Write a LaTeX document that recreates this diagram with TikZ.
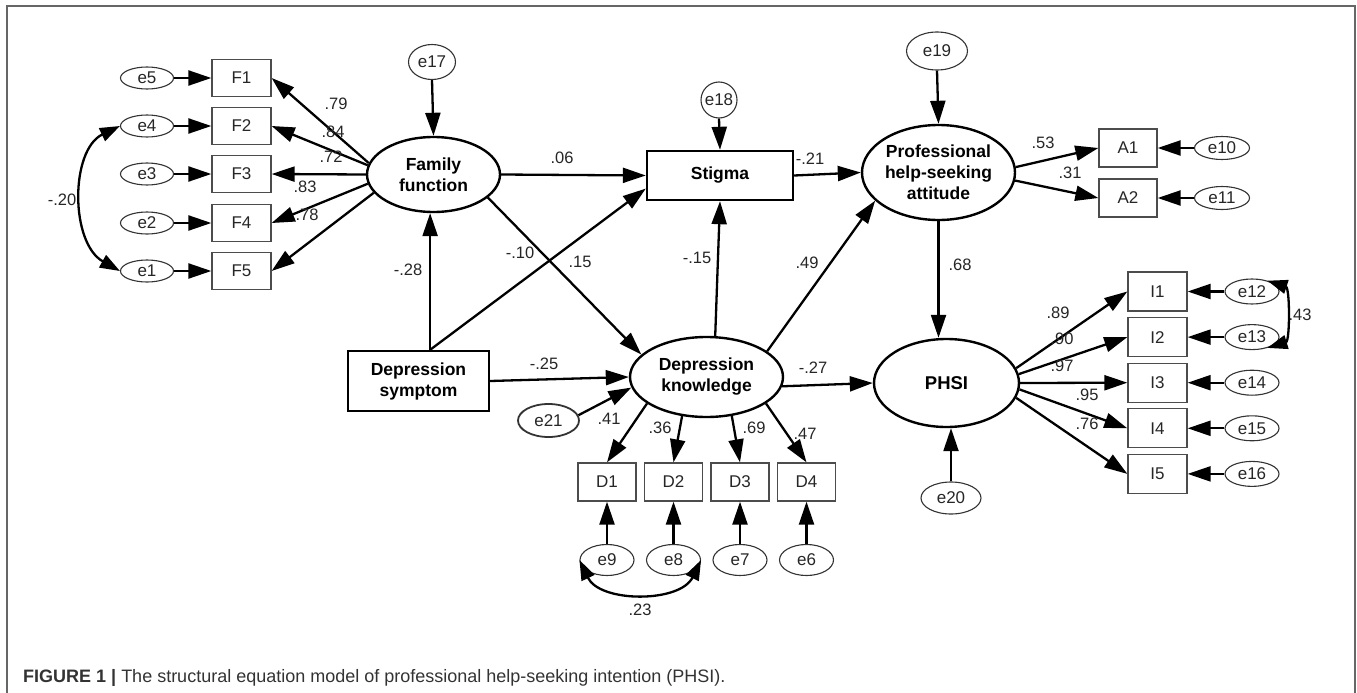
\documentclass[tikz,border=0pt]{standalone}
\usepackage{fontspec}
\setmainfont{Liberation Sans}
\usetikzlibrary{arrows.meta,shapes.geometric,calc}
\begin{document}
\begin{tikzpicture}[x=1pt,y=1pt,
 txt/.style={font=\fontsize{17}{20}\selectfont, text=black!85},
 obs/.style={draw=black!70, line width=1.3pt, rectangle, minimum width=59pt, minimum height=38pt, inner sep=0pt, txt},
 err/.style={draw=black!80, line width=1.1pt, ellipse, minimum width=54pt, minimum height=24pt, inner sep=0pt, txt},
 lat/.style={draw=black, line width=2.4pt, ellipse, inner sep=0pt, align=center, font=\fontsize{17.5}{21}\selectfont\bfseries},
 bigbox/.style={draw=black, line width=2.4pt, rectangle, inner sep=0pt, align=center, font=\fontsize{17.5}{21}\selectfont\bfseries},
 arr/.style={line width=2.3pt, -{Triangle[length=23pt,width=15pt]}},
 cov/.style={line width=2.3pt, {Triangle[length=20pt,width=14pt]}-{Triangle[length=20pt,width=14pt]}},
 lab/.style={font=\fontsize{16.5}{18}\selectfont, inner sep=0pt, text=black!85}]
\useasboundingbox (0,0) rectangle (1357,-693);
% frame
\draw[black!60, line width=1.5pt] (7,-693) -- (7,-6) -- (1355,-6) -- (1355,-693);

% ---------- Family function block ----------
\foreach \i/\y in {5/78,4/126,3/174,2/223,1/271}{
  \node[err, minimum width=53pt, minimum height=22pt] (e\i) at (147,-\y) {e\i};
}
\foreach \i/\y in {1/78,2/126,3/174,4/223,5/271}{
  \node[obs, minimum height=37pt] (F\i) at (241.5,-\y) {F\i};
}
\draw[arr] (e5.east) -- (F1.west);
\draw[arr] (e4.east) -- (F2.west);
\draw[arr] (e3.east) -- (F3.west);
\draw[arr] (e2.east) -- (F4.west);
\draw[arr] (e1.east) -- (F5.west);
\draw[cov] (e4.west) .. controls (70,-150) and (70,-243) .. (e1.west);
\node[lab] (l20) at (62,-200) {-.20};

\node[lat, minimum width=133pt, minimum height=75pt] (ff) at (433.5,-174.5) {Family\\function};
\node[err, minimum width=47pt, minimum height=35pt] (e17) at (432,-62) {e17};
\draw[arr] (e17.south) -- (ff.north);
\draw[arr] (ff.170) -- (F1.east);
\draw[arr] (ff.172) -- (F2.east);
\draw[arr] (ff.180) -- (F3.east);
\draw[arr] (ff.188) -- (F4.east);
\draw[arr] (ff.197) -- (F5.east);
\node[lab] at (336,-104) {.79};
\node[lab] at (333,-132) {.84};
\node[lab] at (331,-157) {.72};
\node[lab] at (305,-187) {.83};
\node[lab] at (307,-215) {.78};

% ---------- Stigma ----------
\node[bigbox, minimum width=146pt, minimum height=49pt] (stigma) at (720,-175.5) {Stigma};
\node[err, circle, minimum size=36pt] (e18) at (719,-100) {e18};
\draw[arr] (e18.south) -- (stigma.north);

% ---------- Professional attitude ----------
\node[lat, minimum width=153pt, minimum height=95pt] (prof) at (938.5,-172.5) {Professional\\help-seeking\\attitude};
\node[err, minimum width=61pt, minimum height=38pt] (e19) at (937,-51) {e19};
\draw[arr] (e19.south) -- (prof.north);
\node[obs, minimum width=58pt] (A1) at (1128,-148) {A1};
\node[obs, minimum width=58pt] (A2) at (1128,-198) {A2};
\node[err, minimum width=55pt, minimum height=23pt] (e10) at (1222,-148) {e10};
\node[err, minimum width=55pt, minimum height=23pt] (e11) at (1222,-198) {e11};
\draw[arr] (e10.west) -- (A1.east);
\draw[arr] (e11.west) -- (A2.east);
\draw[arr] (prof.4) -- (A1.west);
\draw[arr] (prof.-6) -- (A2.west);
\node[lab] at (1043,-143) {.53};
\node[lab] at (1070,-173) {.31};

% ---------- Depression symptom & knowledge ----------
\node[bigbox, minimum width=141pt, minimum height=60pt] (ds) at (418.5,-381) {Depression\\symptom};
\node[lat, minimum width=153pt, minimum height=80pt] (dk) at (706.5,-377) {Depression\\knowledge};
\node[err, line width=1.8pt, minimum width=61pt, minimum height=33pt] (e21) at (548.5,-420.5) {e21};
\coordinate (dsn) at (ds.north -| ff.265);
\draw[arr] (dsn) -- (ff.265);
\draw[arr] (dsn) -- (stigma.190);
\draw[arr] (ff.east) -- (stigma.west);
\draw[arr] (stigma.east) -- (prof.west);
\draw[arr] (ff.337) -- (dk.161);
\draw[arr] (ds.east) -- (dk.west);
\draw[arr] (e21.10) -- (dk.188);
\draw[arr] (dk.78) -- (stigma.south);
\draw[arr] (dk.23) -- (prof.204);
\node[lab] at (408,-270) {-.28};
\node[lab] at (562,-158) {.06};
\node[lab] at (520,-253) {-.10};
\node[lab] at (580,-262) {.15};
\node[lab] at (697,-258) {-.15};
\node[lab] at (807,-263) {.49};
\node[lab] at (810,-159) {-.21};
\node[lab] at (544,-364) {-.25};

% D indicators
\foreach \i/\x in {1/607,2/673.5,3/740,4/806.5}{
  \node[obs, minimum width=58pt] (D\i) at (\x,-482) {D\i};
}
\foreach \i/\x in {9/607,8/673.5,7/740,6/806.5}{
  \node[err, minimum width=54pt, minimum height=31pt] (e\i) at (\x,-560) {e\i};
}
\draw[arr] (e9.north) -- (D1.south);
\draw[arr] (e8.north) -- (D2.south);
\draw[arr] (e7.north) -- (D3.south);
\draw[arr] (e6.north) -- (D4.south);
\draw[arr] (dk.204.5) -- (D1.north);
\draw[arr] (dk.238.5) -- (D2.north);
\draw[arr] (dk.303.5) -- (D3.north);
\draw[arr] (dk.336) -- (D4.north);
\node[lab] at (609,-419) {.41};
\node[lab] at (660,-428) {.36};
\node[lab] at (754,-428) {.69};
\node[lab] at (805,-434) {.47};
\draw[cov] (e9.west) .. controls (600,-603) and (680,-603) .. (e8.east);
\node[lab] at (640,-610) {.23};

% ---------- PHSI ----------
\node[lat, font=\fontsize{18.5}{21}\selectfont\bfseries, minimum width=145pt, minimum height=88pt] (phsi) at (946.5,-383) {PHSI};
\node[err, minimum width=60pt, minimum height=32pt] (e20) at (951,-498) {e20};
\coordinate (pend) at (prof.south |- phsi.north);
\draw[arr] (prof.south) -- (pend);
\draw[arr] (e20.north) -- (e20.north |- phsi.south);
\draw[arr] (dk.353) -- (phsi.west);
\node[lab] at (960,-265) {.68};
\node[lab] at (813,-368) {-.27};

\foreach \i/\y in {1/291.5,2/337.1,3/382.7,4/428.3,5/473.9}{
  \node[obs, minimum height=39pt] (I\i) at (1157.5,-\y) {I\i};
}
\foreach \i/\j/\y in {12/1/291.5,13/2/337.1,14/3/382.7,15/4/428.3,16/5/473.9}{
  \node[err, minimum width=54pt, minimum height=25pt] (e\i) at (1252,-\y) {e\i};
  \draw[arr] (e\i.west) -- (I\j.east);
}
\draw[arr] (phsi.12.4) -- (I1.west);
\draw[arr] (phsi.7.2) -- (I2.west);
\draw[arr] (phsi.0) -- (I3.west);
\draw[arr] (phsi.-5.6) -- (I4.west);
\draw[arr] (phsi.-12.4) -- (I5.west);
\node[lab] at (1058,-313) {.89};
\node[lab] at (1062,-339) {.90};
\node[lab] at (1062,-366) {.97};
\node[lab] at (1087,-395) {.95};
\node[lab] at (1087,-424) {.76};
\draw[cov] (e12.35) .. controls (1290,-288) and (1290,-341) .. (e13.-35);
\node[lab] at (1300,-315) {.43};

% caption
\node[anchor=base west, inner sep=0pt, text=black!80, font=\fontsize{18}{20}\selectfont] (cap) at (23,-682)
  {\textbf{FIGURE 1 |} The structural equation model of professional help-seeking intention (PHSI).};
\end{tikzpicture}
\end{document}
